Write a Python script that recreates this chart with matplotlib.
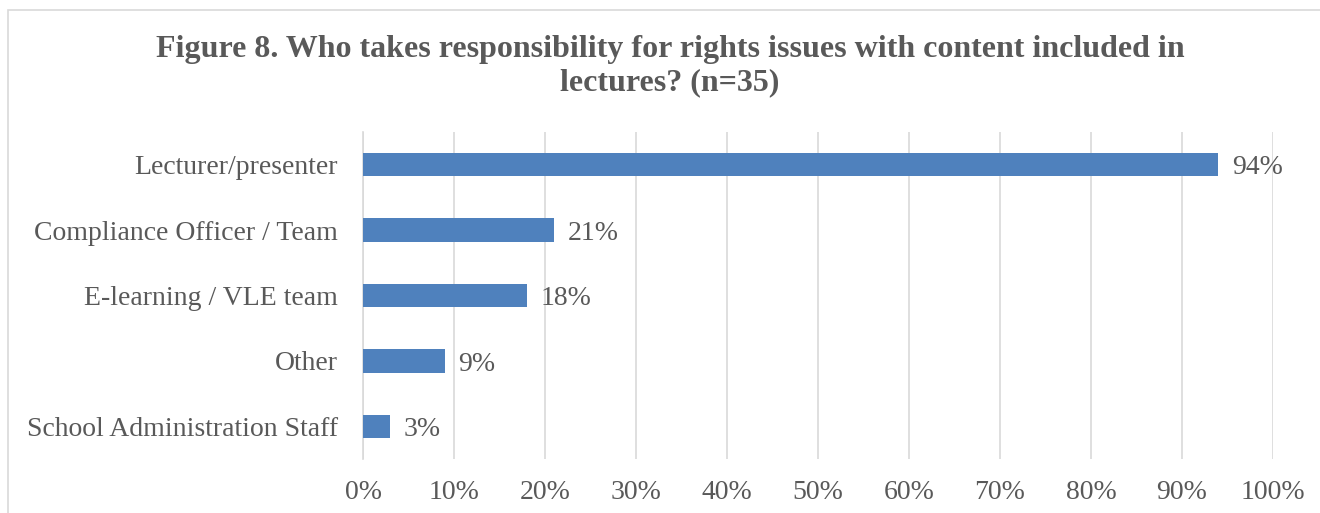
import matplotlib.pyplot as plt
from matplotlib.patches import Rectangle

CATEGORIES = [
    "Lecturer/presenter",
    "Compliance Officer / Team",
    "E-learning / VLE team",
    "Other",
    "School Administration Staff",
]
VALUES = [94, 21, 18, 9, 3]
X_TICKS = [0, 10, 20, 30, 40, 50, 60, 70, 80, 90, 100]

TITLE = "Figure 8. Who takes responsibility for rights issues with content included in\nlectures? (n=35)"

BAR_COLOR = "#4F81BD"
TEXT_COLOR = "#595959"
GRID_COLOR = "#D9D9D9"

plt.rcParams["font.family"] = ["Liberation Serif", "DejaVu Serif"]


def main():
    fig = plt.figure(figsize=(13.2, 5.13), dpi=100)

    # chart border (cropped at right and bottom like the source)
    fig.patches.append(Rectangle((8 / 1320, -0.1), 1.2, 1 - 10 / 513 + 0.1,
                                 transform=fig.transFigure, fill=False,
                                 edgecolor=GRID_COLOR, linewidth=1.2))

    ax = fig.add_axes([363 / 1320, 1 - 459 / 513, 910 / 1320, 327 / 513])

    y = list(range(len(CATEGORIES)))
    ax.barh(y, VALUES, height=0.36, color=BAR_COLOR, zorder=3)

    for yi, v in zip(y, VALUES):
        ax.text(v + 1.5, yi + 0.05, f"{v}%", va="center", ha="left",
                fontsize=20, color=TEXT_COLOR)

    ax.set_xlim(0, 100)
    ax.set_ylim(len(CATEGORIES) - 0.5, -0.5)
    ax.set_xticks(X_TICKS)
    ax.set_xticklabels([f"{t}%" for t in X_TICKS])
    ax.set_yticks(y)
    ax.set_yticklabels(CATEGORIES)

    ax.tick_params(axis="x", length=0, pad=15, labelsize=20, labelcolor=TEXT_COLOR)
    ax.tick_params(axis="y", length=0, pad=18, labelsize=20, labelcolor=TEXT_COLOR)

    ax.grid(True, axis="x", color=GRID_COLOR, linewidth=1.2, zorder=0)
    for side in ["top", "right", "bottom"]:
        ax.spines[side].set_visible(False)
    ax.spines["left"].set_color(GRID_COLOR)
    ax.spines["left"].set_linewidth(1.2)

    fig.text(670 / 1320, 1 - 66 / 513, TITLE, ha="center", va="center",
             fontsize=23, fontweight="bold", color=TEXT_COLOR, linespacing=1.2)

    fig.savefig("out.png", dpi=100)
    plt.close(fig)


if __name__ == "__main__":
    main()
